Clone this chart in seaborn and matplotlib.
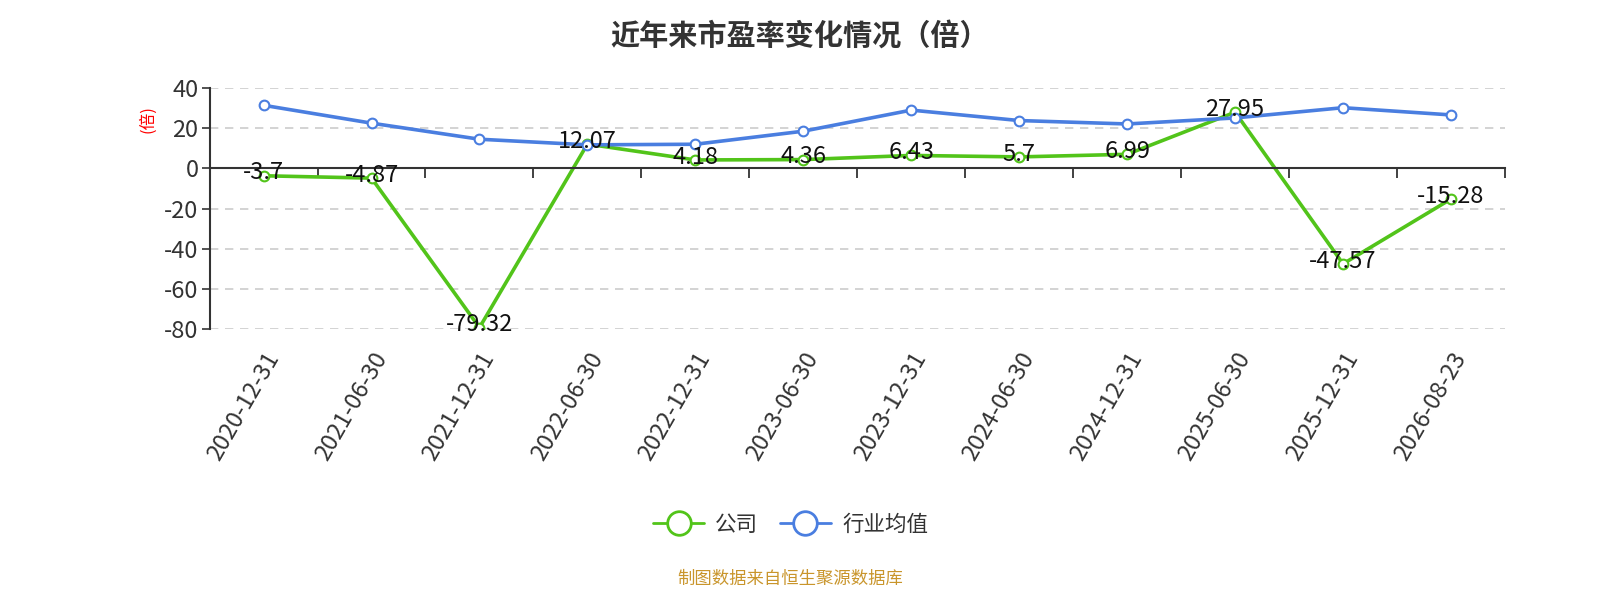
import matplotlib
matplotlib.use("Agg")
import matplotlib.pyplot as plt
import seaborn as sns
import pandas as pd
from matplotlib.lines import Line2D

# -------------------------------
# Data
# -------------------------------
dates = ["2020-12-31", "2021-06-30", "2021-12-31", "2022-06-30", "2022-12-31", "2023-06-30",
         "2023-12-31", "2024-06-30", "2024-12-31", "2025-06-30", "2025-12-31", "2026-08-23"]
company = [-3.7, -4.87, -79.32, 12.07, 4.18, 4.36, 6.43, 5.7, 6.99, 27.95, -47.57, -15.28]
industry = [31.4, 22.5, 14.5, 11.7, 12.0, 18.5, 29.0, 23.8, 22.1, 25.1, 30.2, 26.6]
series_names = ["公司", "行业均值"]
colors = ["#52c41a", "#4a7ee0"]

df = pd.DataFrame({
    "pos": list(range(len(dates))) * 2,
    "value": company + industry,
    "series": [series_names[0]] * len(dates) + [series_names[1]] * len(dates),
})

# -------------------------------
# Style
# -------------------------------
sns.set_style("white")
plt.rcParams["font.family"] = ["Noto Sans CJK SC", "DejaVu Sans"]
plt.rcParams["axes.unicode_minus"] = False

fig = plt.figure(figsize=(16, 6), dpi=100)
ax = fig.add_axes([0.131, 0.4517, 0.8096, 0.4016])

sns.lineplot(data=df, x="pos", y="value", hue="series", palette=colors,
             linewidth=2.6, marker="o", markersize=7, markerfacecolor="white",
             markeredgewidth=1.5, legend=False, ax=ax)
for line, c in zip(ax.lines, colors):
    line.set_markeredgecolor(c)

n = len(dates)
ax.set_xlim(-0.5, n - 0.5)
ax.set_ylim(-80, 40)
ax.set_yticks(range(-80, 41, 20))
ax.tick_params(axis="y", left=True, labelsize=17, colors="#333333", length=6, width=1.2,
               direction="out", pad=2)
ax.yaxis.grid(True, linestyle=(0, (5, 4)), color="#cccccc", linewidth=1.2)
ax.set_axisbelow(True)
ax.set_xlabel("")
ax.set_ylabel("")

for s in ["top", "right"]:
    ax.spines[s].set_visible(False)
ax.spines["left"].set_color("#333333")
ax.spines["left"].set_linewidth(1.5)
ax.spines["bottom"].set_position(("data", 0))
ax.spines["bottom"].set_color("#333333")
ax.spines["bottom"].set_linewidth(1.5)

# boundary ticks on zero line
ax.set_xticks([i + 0.5 for i in range(n)])
ax.set_xticklabels([])
ax.tick_params(axis="x", bottom=True, length=7, width=1.3, colors="#333333", direction="out")

# category labels below plot area
sec = ax.secondary_xaxis(0.0)
sec.set_xticks(range(n))
sec.set_xticklabels(dates, rotation=60, ha="right", va="top", rotation_mode="anchor",
                    fontsize=17, color="#333333")
sec.tick_params(axis="x", bottom=True, length=0, pad=14)
sec.spines["bottom"].set_visible(False)

# data labels for company
for i, v in enumerate(company):
    ax.annotate(f"{v:g}", (i, v), xytext=(0, 2), textcoords="offset points",
                ha="center", va="center", fontsize=17, color="#111111")

ax.text(-0.048, 0.87, "(倍)", transform=ax.transAxes, rotation=90, color="red",
        fontsize=12, ha="center", va="center")

fig.suptitle("近年来市盈率变化情况（倍）", y=0.965, fontsize=21, fontweight="bold", color="#333333")

handles = [Line2D([0], [0], color=c, linewidth=2, marker="o", markersize=17,
                  markerfacecolor="white", markeredgewidth=2) for c in colors]
fig.legend(handles, series_names, loc="center", bbox_to_anchor=(0.494, 0.125), ncol=2,
           frameon=False, fontsize=15.5, handlelength=2.4, columnspacing=1.0,
           handletextpad=0.5, labelcolor="#333333")

fig.text(0.494, 0.035, "制图数据来自恒生聚源数据库", ha="center", va="center",
         fontsize=12.5, color="#c9952b")

fig.savefig("out.png", dpi=100)
